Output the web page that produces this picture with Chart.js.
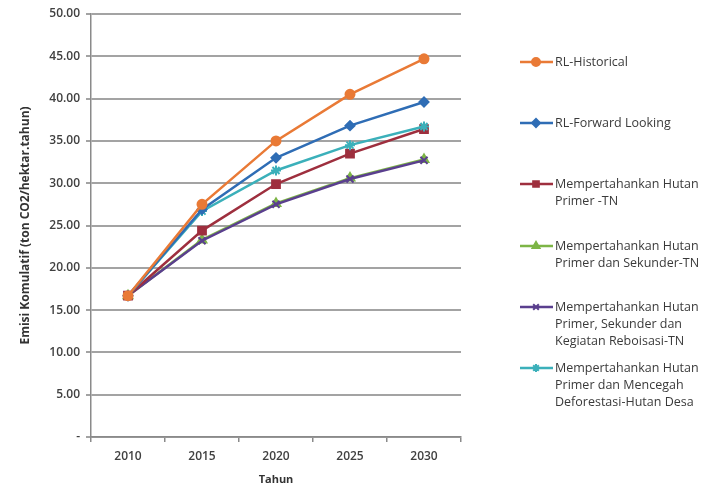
<!DOCTYPE html>
<html>
<head>
<meta charset="utf-8">
<script src="https://cdn.jsdelivr.net/npm/chart.js@4/dist/chart.umd.min.js"></script>
<style>
  html, body { margin: 0; padding: 0; background: #fff; }
  #wrap { width: 720px; height: 486px; position: relative; }
</style>
</head>
<body>
<div id="wrap"><canvas id="emisiChart"></canvas></div>
<script>
// ===========================
// Data
// ===========================
const years = ['2010', '2015', '2020', '2025', '2030'];

const rlHistorical    = [16.7, 27.5, 35.0, 40.5, 44.7];
const rlForward       = [16.7, 26.9, 33.0, 36.8, 39.6];
const primerTN        = [16.7, 24.4, 29.9, 33.5, 36.4];
const primerSekunder  = [16.7, 23.3, 27.6, 30.6, 32.8];
const primerReboisasi = [16.7, 23.2, 27.5, 30.5, 32.7];
const primerDesa      = [16.7, 26.7, 31.5, 34.5, 36.7];

const seriesLabels = [
    ['RL-Historical'],
    ['RL-Forward Looking'],
    ['Mempertahankan Hutan', 'Primer -TN'],
    ['Mempertahankan Hutan', 'Primer dan Sekunder-TN'],
    ['Mempertahankan Hutan', 'Primer, Sekunder dan', 'Kegiatan Reboisasi-TN'],
    ['Mempertahankan Hutan', 'Primer dan Mencegah', 'Deforestasi-Hutan Desa']
];

const yTicks = [0, 5, 10, 15, 20, 25, 30, 35, 40, 45, 50];

// ===========================
// Styles
// ===========================
const colors = ['#E97A36', '#2F6DB5', '#9E2F3E', '#7DB546', '#5A3F8E', '#3BB0BA'];
const shapes = ['circle', 'rectRot', 'rect', 'triangle', 'crossRot', 'star'];
const radii  = [4.5, 4.5, 5.5, 5, 5, 5];

function makeDataset(i, data) {
    return {
        label: seriesLabels[i].join(' '),
        data: data,
        borderColor: colors[i],
        backgroundColor: colors[i],
        pointBackgroundColor: colors[i],
        pointBorderColor: colors[i],
        pointStyle: shapes[i],
        pointRadius: radii[i],
        pointBorderWidth: 2,
        borderWidth: 2.5,
        tension: 0,
        fill: false
    };
}

// Chart.js paints the first dataset on top: purple must cover green
const datasets = [
    makeDataset(0, rlHistorical),
    makeDataset(1, rlForward),
    makeDataset(5, primerDesa),
    makeDataset(2, primerTN),
    makeDataset(4, primerReboisasi),
    makeDataset(3, primerSekunder)
];

// ===========================
// Side legend (multi-line labels)
// ===========================
const sideLegend = {
    id: 'sideLegend',
    afterDraw(chart) {
        const ctx = chart.ctx;
        const rows = [62, 123, 184, 246, 307, 368];
        const lineH = 17;
        ctx.save();
        ctx.font = '12.5px "Open Sans", sans-serif';
        ctx.textBaseline = 'middle';
        for (let i = 0; i < seriesLabels.length; i++) {
            const y = rows[i];
            ctx.strokeStyle = colors[i];
            ctx.lineWidth = 2.5;
            ctx.beginPath();
            ctx.moveTo(520, y);
            ctx.lineTo(553, y);
            ctx.stroke();
            ctx.fillStyle = colors[i];
            ctx.strokeStyle = colors[i];
            ctx.lineWidth = 2;
            Chart.helpers.drawPoint(ctx, { pointStyle: shapes[i], radius: 4, borderWidth: 2 }, 536, y);
            ctx.fillStyle = '#3a3a3a';
            seriesLabels[i].forEach((t, k) => ctx.fillText(t, 555, y + k * lineH));
        }
        ctx.restore();
    }
};

// ===========================
// Chart
// ===========================
const ctx = document.getElementById('emisiChart');

new Chart(ctx, {
    type: 'line',
    data: { labels: years, datasets: datasets },
    plugins: [sideLegend],
    options: {
        responsive: true,
        maintainAspectRatio: false,
        animation: false,
        layout: { padding: { left: 0, right: 259, top: 14, bottom: 0 } },
        plugins: {
            legend: { display: false },
            tooltip: { enabled: false }
        },
        scales: {
            x: {
                offset: true,
                grid: {
                    display: true,
                    offset: true,
                    drawOnChartArea: false,
                    drawTicks: true,
                    tickLength: 5,
                    color: '#8a8a8a',
                    lineWidth: 1.5
                },
                border: { color: '#8a8a8a', width: 1.5 },
                ticks: {
                    color: '#404040',
                    font: { family: '"Open Sans", sans-serif', size: 12, weight: '600' },
                    padding: 7
                },
                title: {
                    display: true,
                    text: 'Tahun',
                    color: '#333',
                    font: { family: '"Open Sans", sans-serif', size: 11, weight: 'bold' },
                    padding: { top: 4, bottom: 0 }
                },
                afterFit(scale) { scale.height = 49; }
            },
            y: {
                min: 0,
                max: 50,
                afterBuildTicks(scale) {
                    scale.ticks = yTicks.map(v => ({ value: v }));
                },
                grid: {
                    color: '#a3a3a3',
                    lineWidth: 2,
                    drawTicks: true,
                    tickLength: 5
                },
                border: { color: '#8a8a8a', width: 1.5 },
                ticks: {
                    color: '#404040',
                    font: { family: '"Open Sans", sans-serif', size: 12, weight: '600' },
                    padding: 6,
                    callback: v => (v === 0 ? '-' : v.toFixed(2))
                },
                title: {
                    display: true,
                    text: 'Emisi Komulatif (ton CO2/hektar.tahun)',
                    color: '#333',
                    font: { family: '"Open Sans", sans-serif', size: 12, weight: 'bold' },
                    padding: { top: 18, bottom: 4 }
                },
                afterFit(scale) { scale.width = 91; }
            }
        }
    }
});
</script>
</body>
</html>
